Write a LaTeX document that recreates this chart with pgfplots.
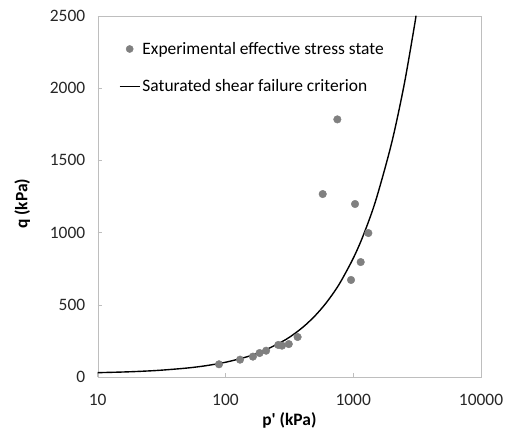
\documentclass[border=0pt]{standalone}
\usepackage{pgfplots}
\pgfplotsset{compat=1.18}
\usepackage{fontspec}
\setmainfont{Carlito}[Ligatures=TeXOff]
\definecolor{ptgray}{RGB}{128,128,128}
\definecolor{axgray}{RGB}{190,190,190}
\begin{document}
\begin{tikzpicture}
\begin{axis}[
  scale only axis,
  width=383.3bp, height=361bp,
  at={(0,0)}, anchor=south west,
  xmode=log, log basis x=10,
  xmin=10, xmax=10000, ymin=0, ymax=2500,
  xtick={10,100,1000,10000},
  xticklabels={10,100,1000,10000},
  ytick={0,500,1000,1500,2000,2500},
  minor tick num=0,
  /pgf/number format/assume math mode=true,
  /pgf/number format/set thousands separator={},
  axis line style={axgray},
  every tick/.style={axgray, line width=0.6pt},
  major tick length=4bp,
  tick align=inside,
  xtick pos=bottom, ytick pos=left,
  ticklabel style={font=\fontsize{17.5}{21}\selectfont, text=black!85},
  xticklabel style={yshift=-14bp},
  yticklabel style={xshift=-9bp},
  xlabel={\textbf{p' (kPa)}},
  ylabel={\textbf{q (kPa)}},
  label style={font=\fontsize{17.5}{21}\selectfont},
  x label style={at={(axis description cs:0.5,-0.119)}, anchor=center},
  y label style={at={(axis description cs:-0.197,0.48)}, anchor=center},
  legend style={at={(axis description cs:0,1)}, anchor=north west, xshift=18bp, yshift=-22bp,
    draw=none, fill=none, font=\fontsize{17.5}{21}\selectfont, row sep=20bp,
    legend cell align=left},
  clip=true,
]
\addplot[only marks, mark=*, mark size=3.8bp, color=ptgray,
  legend image code/.code={\draw[ptgray,fill=ptgray] (10bp,0bp) circle (3.6bp);}]
  coordinates {
  (89,88) (130,120) (164,141) (185,166) (208,182)
  (259,222) (277,217) (313,228) (367,277)
  (577,1267) (751,1784) (1033,1198) (1313,997) (1144,796) (961,672)
  };
\addlegendentry{Experimental effective stress state}
\addplot[black, line width=1.4pt, smooth,
  legend image code/.code={\draw[black, line width=1.6pt] (0bp,0bp) -- (20bp,0bp);}]
  coordinates {
  (10,30) (15,34) (20,38) (30,46) (50,62) (70,78) (100,102) (150,142)
  (200,182) (300,262) (400,342) (500,422) (600,502) (700,582) (800,662)
  (1000,822) (1200,982) (1500,1222) (2000,1622) (2500,2022) (3000,2422) (3100,2502)
  };
\addlegendentry{Saturated shear failure criterion}
\end{axis}
\pgfresetboundingbox
\path (-97.7bp,-53bp) rectangle (407.3bp,377bp);
\end{tikzpicture}
\end{document}
